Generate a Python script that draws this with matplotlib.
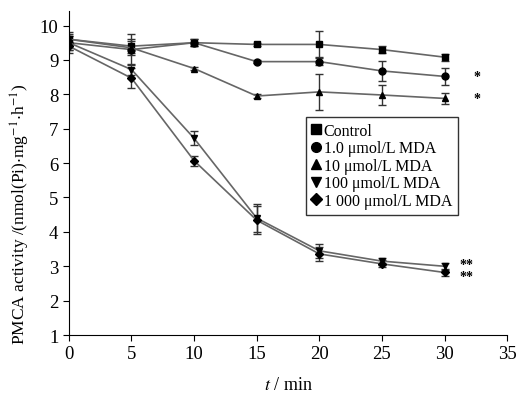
import matplotlib
matplotlib.use("Agg")
import matplotlib.pyplot as plt
from matplotlib.lines import Line2D

plt.rcParams['font.family'] = ['Liberation Serif', 'DejaVu Serif']
plt.rcParams['mathtext.fontset'] = 'stix'

# 时间点 (min)
t = [0, 5, 10, 15, 20, 25, 30]

# 各组 PMCA 活性及误差
control = [9.6, 9.4, 9.5, 9.45, 9.45, 9.3, 9.08]
control_err = [0.15, 0.2, 0.1, 0.05, 0.38, 0.1, 0.1]
mda_1 = [9.5, 9.3, 9.5, 8.95, 8.95, 8.68, 8.52]
mda_1_err = [0.2, 0.45, 0.1, 0.05, 0.1, 0.3, 0.25]
mda_10 = [9.6, 9.35, 8.75, 7.95, 8.07, 7.98, 7.88]
mda_10_err = [0.2, 0.2, 0.05, 0.05, 0.52, 0.3, 0.15]
mda_100 = [9.5, 8.72, 6.72, 4.4, 3.45, 3.15, 3.0]
mda_100_err = [0.2, 0.15, 0.2, 0.4, 0.2, 0.1, 0.1]
mda_1000 = [9.4, 8.47, 6.07, 4.34, 3.36, 3.07, 2.82]
mda_1000_err = [0.2, 0.3, 0.15, 0.4, 0.2, 0.1, 0.1]

labels = ["Control", "1.0 μmol/L MDA", "10 μmol/L MDA",
          "100 μmol/L MDA", "1 000 μmol/L MDA"]
markers = ["s", "o", "^", "v", "D"]
series = [(control, control_err), (mda_1, mda_1_err), (mda_10, mda_10_err),
          (mda_100, mda_100_err), (mda_1000, mda_1000_err)]

fig = plt.figure(figsize=(5.18, 4.02), dpi=100)
ax = fig.add_axes([0.133, 0.164, 0.846, 0.806])

for (y, e), m in zip(series, markers):
    ax.errorbar(t, y, yerr=e, color="#666666", lw=1.2, ecolor="#333333",
                elinewidth=1.0, capsize=3, marker=m,
                ms=5 if m != "D" else 4.5, mfc="black", mec="black")

# 显著性标记
ax.text(32.3, mda_1[-1], "*", fontsize=10, va="center", ha="left", fontweight="bold")
ax.text(32.3, mda_10[-1], "*", fontsize=10, va="center", ha="left", fontweight="bold")
ax.text(31.2, mda_100[-1] + 0.05, "**", fontsize=10, va="center", ha="left", fontweight="bold")
ax.text(31.2, mda_1000[-1] - 0.12, "**", fontsize=10, va="center", ha="left", fontweight="bold")

ax.set_xlim(0, 35)
ax.set_ylim(1, 10.42)
ax.set_xticks(range(0, 36, 5))
ax.set_yticks(range(1, 11))
ax.spines['top'].set_visible(False)
ax.spines['right'].set_visible(False)
ax.tick_params(axis="both", which="major", labelsize=13.5, direction="out", length=4)

ax.set_xlabel(r"$t$ / min", fontsize=13)
ax.xaxis.set_label_coords(0.5, -0.125)
ax.set_ylabel(r"PMCA activity /(nmol(Pi)$\cdot$mg$^{-1}$$\cdot$h$^{-1}$)", fontsize=12.5)
ax.yaxis.set_label_coords(-0.085, 0.375)

handles = [Line2D([], [], ls="none", marker=m, ms=7 if m != "D" else 6,
                  mfc="black", mec="black") for m in markers]
leg = ax.legend(handles, labels, loc="upper left", bbox_to_anchor=(0.541, 0.673),
                fontsize=11.5, frameon=True, fancybox=False, edgecolor="black",
                handlelength=0.6, handletextpad=0.15, borderpad=0.35,
                labelspacing=0.1, borderaxespad=0)
leg.get_frame().set_linewidth(1.0)

fig.savefig("out.png", dpi=100)
